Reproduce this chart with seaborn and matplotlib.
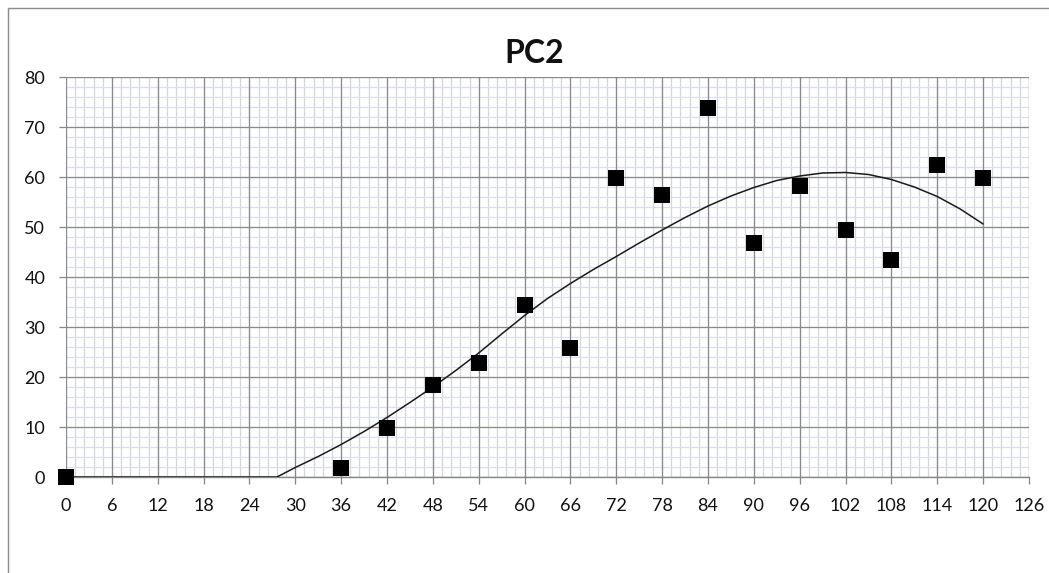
import numpy as np
import pandas as pd
import matplotlib
matplotlib.use("Agg")
import matplotlib.pyplot as plt
import seaborn as sns
from matplotlib.ticker import MultipleLocator
from matplotlib.lines import Line2D

# observed points
obs_x = [0, 36, 42, 48, 54, 60, 66, 72, 78, 84, 90, 96, 102, 108, 114, 120]
obs_y = [0, 1.9, 9.9, 18.5, 22.9, 34.4, 25.9, 59.8, 56.4, 73.8, 46.8, 58.3, 49.4, 43.4, 62.4, 59.8]

# fitted curve
fit_x = [0, 27.6, 30, 33, 36, 39, 42, 45, 48, 51, 54, 57, 60, 63, 66, 69, 72,
         75, 78, 81, 84, 87, 90, 93, 96, 99, 102, 105, 108, 111, 114, 117, 120]
fit_y = [0, 0, 1.9, 4.1, 6.5, 9.1, 11.9, 14.9, 18.0, 21.3, 24.8, 28.6, 32.3,
         35.7, 38.7, 41.5, 44.1, 46.8, 49.4, 51.9, 54.2, 56.2, 57.9, 59.3,
         60.2, 60.8, 60.9, 60.5, 59.5, 58.0, 56.1, 53.6, 50.6]

title = "PC2"
x_ticks = list(range(0, 127, 6))
y_ticks = list(range(0, 81, 10))

sns.set_style("white")
plt.rcParams['font.family'] = ['Lato', 'DejaVu Sans']

W, H = 1049, 573
fig = plt.figure(figsize=(W / 100, H / 100), dpi=100)
left, right, top, bottom = 66, 1029, 77, 477
ax = fig.add_axes([left / W, 1 - bottom / H, (right - left) / W, (bottom - top) / H])

df_fit = pd.DataFrame({"x": fit_x, "y": fit_y})
df_obs = pd.DataFrame({"x": obs_x, "y": obs_y})

sns.lineplot(data=df_fit, x="x", y="y", ax=ax, color="#1a1a1a", linewidth=1.1,
             sort=False, estimator=None, zorder=3)
sns.scatterplot(data=df_obs, x="x", y="y", ax=ax, marker="s", s=118, color="black",
                linewidth=0, zorder=4, clip_on=False)

ax.set_xlim(0, 126)
ax.set_ylim(0, 80)
ax.set_xticks(x_ticks)
ax.set_yticks(y_ticks)
ax.xaxis.set_minor_locator(MultipleLocator(1.2))
ax.yaxis.set_minor_locator(MultipleLocator(2))

ax.grid(False)
# minor grids
for v in np.arange(0, 126.01, 1.2):
    ax.axvline(v, color="#d6d6d6", lw=0.9, zorder=0.5)
for v in np.arange(0, 80.01, 2):
    ax.axhline(v, color="#d8e0ee", lw=0.9, zorder=0.5)
for v in x_ticks:
    ax.axvline(v, color="#8a8a8a", lw=0.9, zorder=1)
for v in y_ticks:
    ax.axhline(v, color="#8a8a8a", lw=0.9, zorder=1)

for s in ax.spines.values():
    s.set_visible(False)
ax.spines['bottom'].set_visible(True)
ax.spines['bottom'].set_color("#868686")
ax.spines['bottom'].set_linewidth(1.0)

ax.tick_params(axis='x', which='major', length=5, width=0.9, color="#868686",
               pad=10, labelsize=13, labelcolor="#111111", bottom=True)
ax.tick_params(axis='y', which='major', length=5, width=0.9, color="#868686",
               pad=10, labelsize=13, labelcolor="#111111", left=True)
ax.tick_params(which='minor', length=0)
ax.set_xlabel("")
ax.set_ylabel("")
ax.set_xticklabels([str(t) for t in x_ticks])
ax.set_yticklabels([str(t) for t in y_ticks])

fig.text(534 / W, 1 - 63.5 / H, title, ha='center', va='baseline',
         fontsize=23, fontweight='bold', color="#111111")

# chart area border (top and left visible)
fig.add_artist(Line2D([8 / W, 1], [1 - 8 / H, 1 - 8 / H], transform=fig.transFigure,
                      color="#8c8c8c", lw=1))
fig.add_artist(Line2D([8 / W, 8 / W], [0, 1 - 8 / H], transform=fig.transFigure,
                      color="#8c8c8c", lw=1))

fig.savefig("out.png", dpi=100)
